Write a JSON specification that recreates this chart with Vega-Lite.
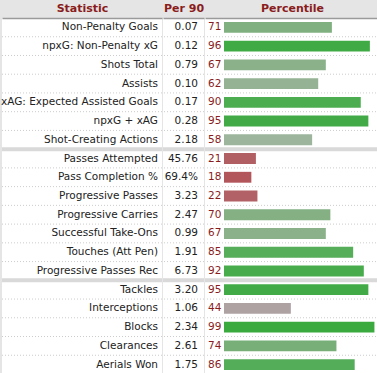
{
  "$schema": "https://vega.github.io/schema/vega-lite/v6.json",
  "padding": {"top": 2, "left": 0, "right": 0, "bottom": 0},
  "background": "#e5e5e5",
  "bounds": "flush",
  "spacing": 1,
  "data": {"values": [
    {"stat": "Non-Penalty Goals", "per90": "0.07", "pct": 71},
    {"stat": "npxG: Non-Penalty xG", "per90": "0.12", "pct": 96},
    {"stat": "Shots Total", "per90": "0.79", "pct": 67},
    {"stat": "Assists", "per90": "0.10", "pct": 62},
    {"stat": "xAG: Expected Assisted Goals", "per90": "0.17", "pct": 90},
    {"stat": "npxG + xAG", "per90": "0.28", "pct": 95},
    {"stat": "Shot-Creating Actions", "per90": "2.18", "pct": 58},
    {"stat": "Passes Attempted", "per90": "45.76", "pct": 21},
    {"stat": "Pass Completion %", "per90": "69.4%", "pct": 18},
    {"stat": "Progressive Passes", "per90": "3.23", "pct": 22},
    {"stat": "Progressive Carries", "per90": "2.47", "pct": 70},
    {"stat": "Successful Take-Ons", "per90": "0.99", "pct": 67},
    {"stat": "Touches (Att Pen)", "per90": "1.91", "pct": 85},
    {"stat": "Progressive Passes Rec", "per90": "6.73", "pct": 92},
    {"stat": "Tackles", "per90": "3.20", "pct": 95},
    {"stat": "Interceptions", "per90": "1.06", "pct": 44},
    {"stat": "Blocks", "per90": "2.34", "pct": 99},
    {"stat": "Clearances", "per90": "2.61", "pct": 74},
    {"stat": "Aerials Won", "per90": "1.75", "pct": 86}
  ]},
  "config": {
    "view": {"fill": "white", "stroke": null},
    "axis": {
      "labels": false, "ticks": false, "grid": false,
      "domainColor": "#9a9a9a", "domainWidth": 1.5,
      "titleColor": "#8a1c1c", "titleFont": "DejaVu Sans", "titleFontSize": 11,
      "titleFontWeight": "bold", "titlePadding": 5
    },
    "text": {"font": "DejaVu Sans", "fontSize": 10.5}
  },
  "hconcat": [
    {
      "width": 160, "height": 356,
      "layer": [
        {"mark": {"type": "rule", "strokeDash": [1, 2], "color": "#cccccc", "strokeWidth": 1},
         "encoding": {"y": {"field": "stat", "type": "nominal", "sort": null, "bandPosition": 1, "axis": null, "scale": {"paddingInner": 0, "paddingOuter": 0}}}},
        {"transform": [{"filter": {"field": "stat", "oneOf": ["Passes Attempted", "Tackles"]}}],
         "mark": {"type": "rule", "strokeWidth": 4, "color": "#d9d9d9"},
         "encoding": {"y": {"field": "stat", "type": "nominal", "sort": null, "bandPosition": 0}}},
        {"transform": [{"filter": {"field": "stat", "equal": "Aerials Won"}}],
         "mark": {"type": "rule", "strokeWidth": 1.5, "color": "#9a9a9a"},
         "encoding": {"y": {"field": "stat", "type": "nominal", "sort": null, "bandPosition": 1}}},
        {"mark": {"type": "text", "align": "right", "dx": -4, "color": "#222222"},
         "encoding": {
           "y": {"field": "stat", "type": "nominal", "sort": null},
           "x": {"datum": 1, "type": "quantitative", "scale": {"domain": [0, 1]}, "axis": {"orient": "top", "title": "Statistic"}},
           "text": {"field": "stat"}
         }}
      ]
    },
    {
      "width": 41, "height": 356,
      "layer": [
        {"mark": {"type": "rule", "strokeDash": [1, 2], "color": "#cccccc", "strokeWidth": 1},
         "encoding": {"y": {"field": "stat", "type": "nominal", "sort": null, "bandPosition": 1, "axis": null, "scale": {"paddingInner": 0, "paddingOuter": 0}}}},
        {"transform": [{"filter": {"field": "stat", "oneOf": ["Passes Attempted", "Tackles"]}}],
         "mark": {"type": "rule", "strokeWidth": 4, "color": "#d9d9d9"},
         "encoding": {"y": {"field": "stat", "type": "nominal", "sort": null, "bandPosition": 0}}},
        {"transform": [{"filter": {"field": "stat", "equal": "Aerials Won"}}],
         "mark": {"type": "rule", "strokeWidth": 1.5, "color": "#9a9a9a"},
         "encoding": {"y": {"field": "stat", "type": "nominal", "sort": null, "bandPosition": 1}}},
        {"mark": {"type": "text", "align": "right", "dx": -6, "color": "#222222"},
         "encoding": {
           "y": {"field": "stat", "type": "nominal", "sort": null},
           "x": {"datum": 1, "type": "quantitative", "scale": {"domain": [0, 1]}, "axis": {"orient": "top", "title": "Per 90"}},
           "text": {"field": "per90"}
         }}
      ]
    },
    {
      "width": 174, "height": 356,
      "layer": [
        {"mark": {"type": "rule", "strokeDash": [1, 2], "color": "#cccccc", "strokeWidth": 1},
         "encoding": {"y": {"field": "stat", "type": "nominal", "sort": null, "bandPosition": 1, "axis": null, "scale": {"paddingInner": 0, "paddingOuter": 0}}}},
        {"transform": [{"filter": {"field": "stat", "oneOf": ["Passes Attempted", "Tackles"]}}],
         "mark": {"type": "rule", "strokeWidth": 4, "color": "#d9d9d9"},
         "encoding": {"y": {"field": "stat", "type": "nominal", "sort": null, "bandPosition": 0}}},
        {"transform": [{"filter": {"field": "stat", "equal": "Aerials Won"}}],
         "mark": {"type": "rule", "strokeWidth": 1.5, "color": "#9a9a9a"},
         "encoding": {"y": {"field": "stat", "type": "nominal", "sort": null, "bandPosition": 1}}},
        {"mark": {"type": "bar", "height": {"band": 0.58}},
         "encoding": {
           "y": {"field": "stat", "type": "nominal", "sort": null},
           "x": {"field": "pct", "type": "quantitative", "scale": {"domain": [-12.5, 102], "nice": false, "zero": false}, "axis": {"orient": "top", "title": "Percentile"}},
           "x2": {"datum": 0},
           "color": {"field": "pct", "type": "quantitative", "legend": null,
             "scale": {"domain": [18, 44, 58, 70, 85, 99], "range": ["#b3565b", "#aea2a3", "#9db49d", "#84b083", "#56ad5a", "#3aaa3f"], "interpolate": "rgb"}}
         }},
        {"mark": {"type": "text", "align": "left", "dx": 3, "color": "#8a1c1c"},
         "encoding": {
           "y": {"field": "stat", "type": "nominal", "sort": null},
           "x": {"value": 0},
           "text": {"field": "pct"}
         }}
      ]
    }
  ]
}
